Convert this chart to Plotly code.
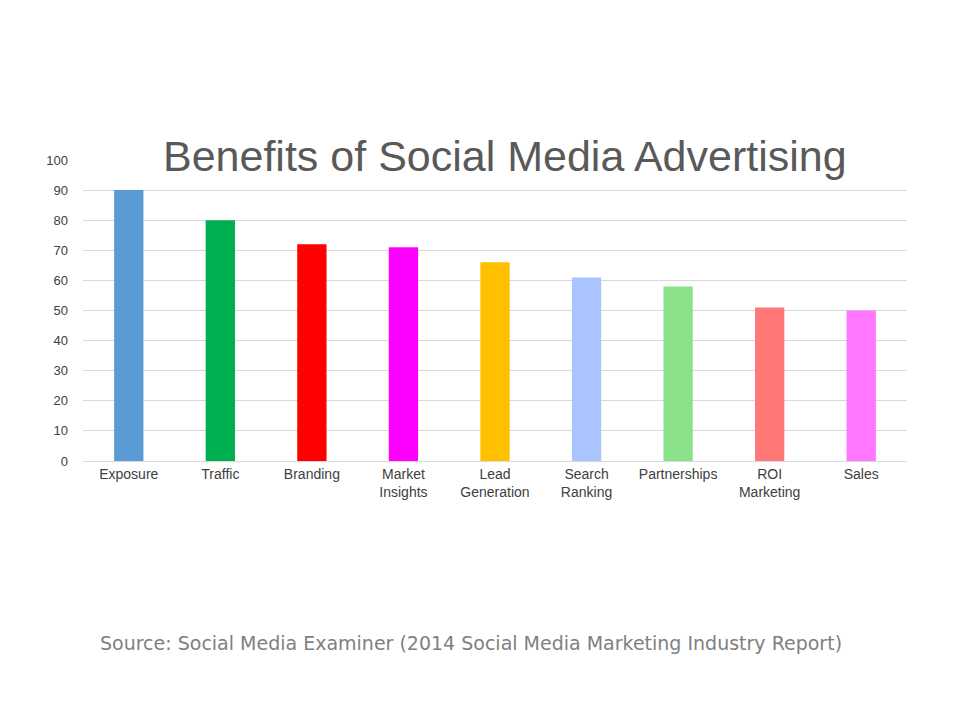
import plotly.graph_objects as go

categories = ["Exposure", "Traffic", "Branding", "Market<br>Insights", "Lead<br>Generation",
              "Search<br>Ranking", "Partnerships", "ROI<br>Marketing", "Sales"]
values = [90, 80, 72, 71, 66, 61, 58, 51, 50]
colors = ["#5B9BD5", "#00B050", "#FF0000", "#FF00FF", "#FFC000",
          "#A9C4FF", "#8AE38A", "#FF7777", "#FF77FF"]
y_ticks = list(range(0, 101, 10))

# the page body adds an 8px offset, so margins are shifted to compensate
L, R, T, B = 75, 61, 152, 267

fig = go.Figure(go.Bar(x=categories, y=values, marker=dict(color=colors, line_width=0)))

fig.update_layout(
    width=960, height=720,
    margin=dict(l=L, r=R, t=T, b=B),
    plot_bgcolor="white", paper_bgcolor="white",
    bargap=0.68,
    showlegend=False,
    font=dict(family="Liberation Sans", size=13, color="#404040"),
    xaxis=dict(showline=True, linecolor="#d9d9d9", tickfont=dict(size=14)),
    yaxis=dict(range=[0, 100], tickvals=y_ticks, gridcolor="#d9d9d9",
               zeroline=False, ticks="", ticklabelstandoff=14),
    annotations=[
        dict(text="Benefits of Social Media Advertising", x=497, y=122, xref="paper", yref="paper",
             showarrow=False, font=dict(size=43, color="#595959", family="Liberation Sans")),
        dict(text="Source: Social Media Examiner (2014 Social Media Marketing Industry Report)",
             x=463, y=648, xref="paper", yref="paper", showarrow=False,
             font=dict(size=19, color="#7f7f7f", family="DejaVu Sans")),
    ],
)
# convert pixel positions of annotations into paper coordinates
pw, ph = 960 - L - R, 720 - T - B
for a in fig.layout.annotations:
    a.x = (a.x - L) / pw
    a.y = (720 - B - a.y) / ph

fig.write_html("out.html")
